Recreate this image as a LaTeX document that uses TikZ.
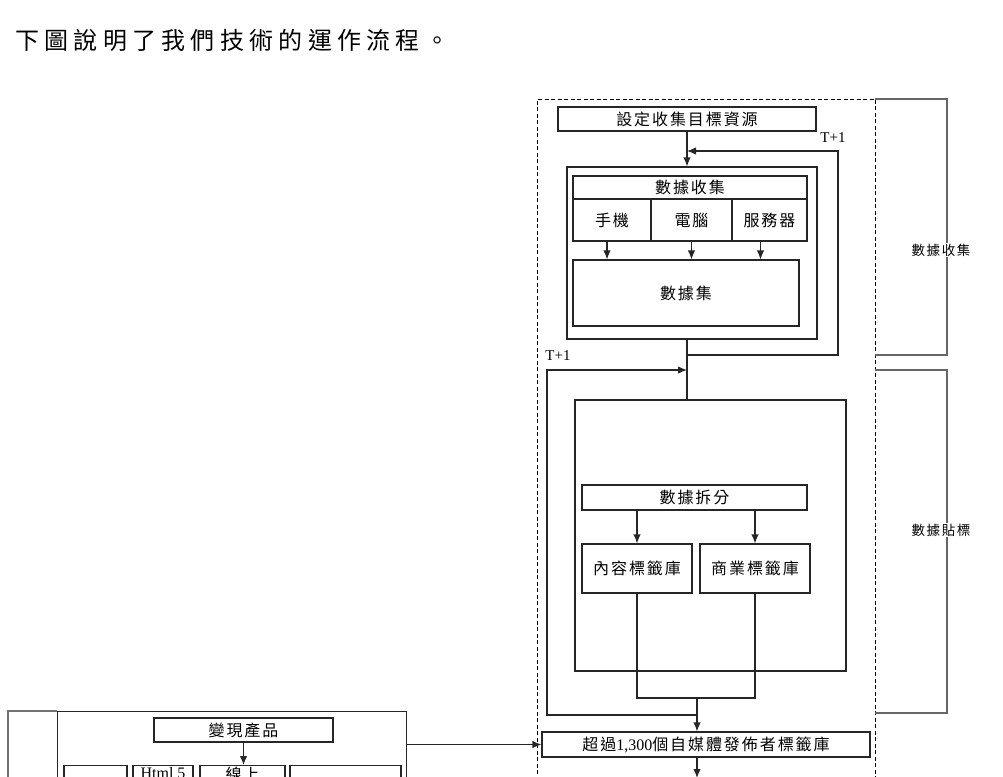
\documentclass[tikz,border=0pt]{standalone}
\usepackage{fontspec}
\setmainfont{Liberation Serif}
\newfontfamily\cjk{Noto Sans CJK TC}[LetterSpace=12]
\newfontfamily\cjktitle{Noto Sans CJK TC}[LetterSpace=22]
\usetikzlibrary{arrows.meta}

\begin{document}
\begin{tikzpicture}[x=1pt, y=-1pt,
  box/.style={draw=black!85, line width=1.2pt, inner sep=0pt, font=\cjk\fontsize{16}{18}\selectfont},
  frame/.style={draw=black!85, line width=1.2pt, inner sep=0pt},
  arr/.style={-{Latex[length=9pt,width=7.5pt]}, draw=black!85, line width=1.2pt},
  ln/.style={draw=black!85, line width=1.2pt},
  brk/.style={draw=black!60, line width=1.4pt},
  side/.style={fill=white, inner sep=1pt, font=\cjk\fontsize{13.5}{16}\selectfont},
  tplus/.style={inner sep=0pt, font=\fontsize{15}{17}\selectfont}]
 \useasboundingbox (0,0) rectangle (1003,776);
 \clip (0,0) rectangle (1003,776);

 \node[anchor=west, inner sep=0pt, font=\cjktitle\fontsize{24}{28}\selectfont] (title) at (15,40) {下圖說明了我們技術的運作流程。};

 % dashed frame and side brackets
 \draw[dash pattern=on 4pt off 2.5pt, line width=1pt] (537,800) -- (537,99) -- (875,99) -- (875,800);
 \draw[brk] (875,99) -- (947,99) -- (947,355) -- (875,355);
 \draw[brk] (875,370) -- (947,370) -- (947,713) -- (875,713);
 \node[side] (lblcollect) at (941,250) {數據收集};
 \node[side] (lbltag) at (941,530) {數據貼標};

 % collection
 \node[box, minimum width=258pt, minimum height=24pt] (src) at (687,119) {設定收集目標資源};
 \node[frame, minimum width=250pt, minimum height=172pt] (collect) at (692,253) {};
 \node[box, minimum width=234pt, minimum height=23pt] (head) at (690,187.5) {數據收集};
 \node[box, minimum width=78pt, minimum height=42pt] (phone) at (612,220) {手機};
 \node[box, minimum width=81pt, minimum height=42pt] (pc) at (691.5,220) {電腦};
 \node[box, minimum width=75pt, minimum height=42pt] (server) at (769.5,220) {服務器};
 \node[box, minimum width=226pt, minimum height=66pt] (dataset) at (686,293) {數據集};

 \draw[arr] ([xshift=-5pt]phone.south) -- ([xshift=-5pt]phone.south |- dataset.north);
 \draw[arr] (pc.south) -- (pc.south |- dataset.north);
 \draw[arr] ([xshift=-9pt]server.south) -- ([xshift=-9pt]server.south |- dataset.north);

 \coordinate (tapA) at (687,355);
 \coordinate (fbin) at (687,151);
 \coordinate (fbin2) at (687,370);
 \draw[arr] (src.south) -- (src.south |- collect.north);
 \draw[arr] (tapA) -| (838,151) -- (fbin);
 \node[tplus] (t1) at (833,138) {T+1};

 % labelling
 \node[frame, minimum width=271pt, minimum height=271pt] (tagbox) at (710.5,535.5) {};
 \draw[ln] (src.south |- collect.south) -- (src.south |- tagbox.north);
 \node[box, minimum width=225pt, minimum height=25pt] (split) at (694.5,497.5) {數據拆分};
 \node[box, minimum width=110pt, minimum height=49pt] (content) at (637,568.5) {內容標籤庫};
 \node[box, minimum width=110pt, minimum height=49pt] (business) at (755,568.5) {商業標籤庫};
 \draw[arr] (split.south -| content) -- (content);
 \draw[arr] (split.south -| business) -- (business);

 \coordinate (merge) at (697,698);
 \coordinate (tapB) at (697,715);
 \draw[ln] (content) -- (content |- merge) -- (business |- merge) -- (business);
 \draw[arr] (tapB) -| (547,370) -- (fbin2);
 \node[tplus] (t2) at (558,356) {T+1};

 \node[box, minimum width=328pt, minimum height=25pt] (lib) at (706,744.5) {超過{\rmfamily 1,300}個自媒體發佈者標籤庫};
 \draw[arr] (merge) -- (merge |- lib.north);
 \coordinate (out) at (697,778);
 \draw[arr] (lib.south -| merge) -- (out);

 % monetisation panel
 \draw[draw=black!55, line width=1.2pt] (8,800) -- (8,711) -- (57,711);
 \node[frame, anchor=north west, minimum width=349pt, minimum height=100pt] (sell) at (57,711) {};
 \node[box, minimum width=179pt, minimum height=24pt] (mkt) at (243.5,730) {變現產品};
 \node[box, anchor=north, minimum width=63pt, minimum height=50pt] (ch1) at (95.5,765) {};
 \node[box, anchor=north, minimum width=60pt, minimum height=50pt] (html) at (163,765) {};
 \node[box, anchor=north, minimum width=85pt, minimum height=50pt] (online) at (242.5,765) {};
 \node[box, anchor=north, minimum width=111pt, minimum height=50pt] (ch4) at (345.5,765) {};
 \node[anchor=base, inner sep=0pt, font=\fontsize{16}{18}\selectfont] (htmltxt) at (163,778) {Html 5};
 \node[anchor=north, inner sep=0pt, font=\cjk\fontsize{16}{18}\selectfont] (onlinetxt) at (242.5,767) {線上};
 \draw[arr] (mkt.south) -- (mkt.south |- online.north);
 \draw[arr] (sell.east |- lib.west) -- (lib.west);
\end{tikzpicture}
\end{document}
